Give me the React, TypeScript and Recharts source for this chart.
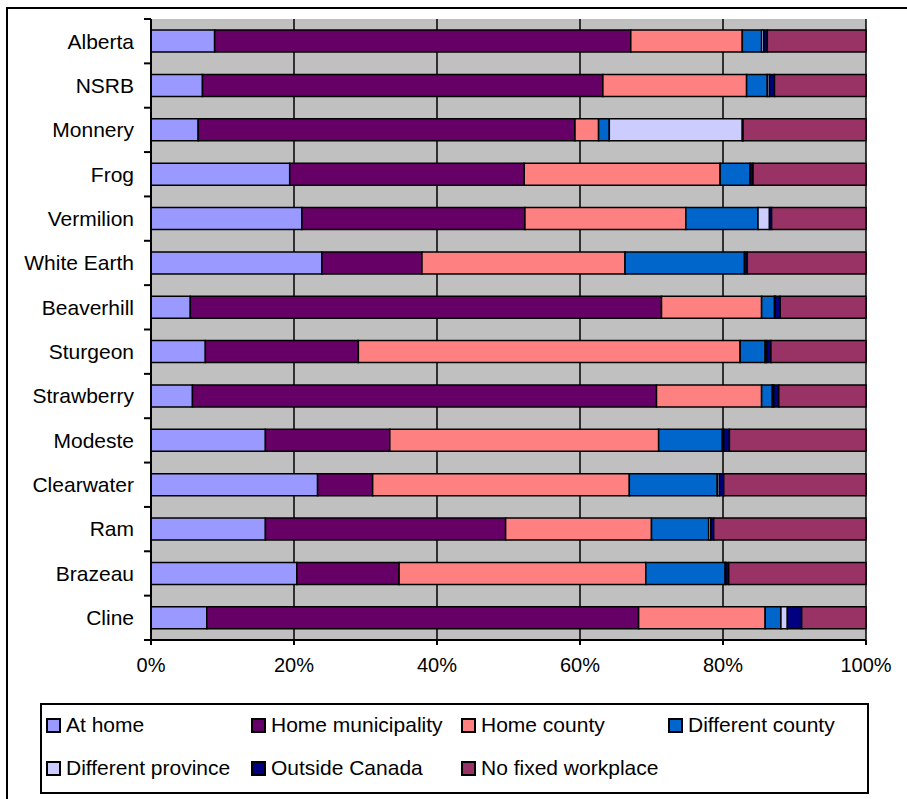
import { BarChart, Bar, XAxis, YAxis, CartesianGrid } from "recharts";

// share of workers by place of work, one bar per region
const regions = [
  "Alberta",
  "NSRB",
  "Monnery",
  "Frog",
  "Vermilion",
  "White Earth",
  "Beaverhill",
  "Sturgeon",
  "Strawberry",
  "Modeste",
  "Clearwater",
  "Ram",
  "Brazeau",
  "Cline",
];

const atHome = [8.9, 7.2, 6.6, 19.4, 21.1, 23.9, 5.5, 7.6, 5.8, 16.0, 23.3, 16.0, 20.4, 7.8];
const homeMunicipality = [58.2, 56.0, 52.7, 32.8, 31.2, 14.0, 65.9, 21.4, 64.9, 17.4, 7.7, 33.6, 14.3, 60.4];
const homeCounty = [15.6, 20.1, 3.3, 27.4, 22.5, 28.4, 14.0, 53.4, 14.7, 37.6, 35.9, 20.4, 34.5, 17.7];
const differentCounty = [2.7, 2.9, 1.5, 4.2, 10.1, 16.7, 1.8, 3.5, 1.5, 8.9, 12.3, 8.0, 11.1, 2.2];
const differentProvince = [0.3, 0.3, 18.6, 0, 1.6, 0, 0.1, 0.2, 0.2, 0.2, 0.3, 0.3, 0.1, 0.9];
const outsideCanada = [0.5, 0.7, 0.1, 0.4, 0.3, 0.4, 0.7, 0.6, 0.7, 0.8, 0.6, 0.4, 0.4, 2.0];
const noFixedWorkplace = [13.8, 12.8, 17.2, 15.8, 13.2, 16.6, 12.0, 13.3, 12.2, 19.1, 19.9, 21.3, 19.2, 9.0];

const xTicks = [0, 0.2, 0.4, 0.6, 0.8, 1];

const series = [
  { key: "atHome", label: "At home", color: "#9999FF", values: atHome },
  { key: "homeMunicipality", label: "Home municipality", color: "#660066", values: homeMunicipality },
  { key: "homeCounty", label: "Home county", color: "#FF8080", values: homeCounty },
  { key: "differentCounty", label: "Different county", color: "#0066CC", values: differentCounty },
  { key: "differentProvince", label: "Different province", color: "#CCCCFF", values: differentProvince },
  { key: "outsideCanada", label: "Outside Canada", color: "#000080", values: outsideCanada },
  { key: "noFixedWorkplace", label: "No fixed workplace", color: "#993366", values: noFixedWorkplace },
];

const rows = regions.map((name, i) => {
  const row: Record<string, string | number> = { name };
  series.forEach((s) => {
    row[s.key] = s.values[i];
  });
  return row;
});

const FONT = "'Liberation Sans', Arial, sans-serif";
const CHART_W = 907;
const CHART_H = 700;
const AXIS_W = 151;
const TOP = 19;
const X_AXIS_H = 60;
const BAND = (CHART_H - TOP - X_AXIS_H) / regions.length;

// category label plus a tick mark at the band boundary above it
function RegionTick(props: any) {
  const { y, payload, index } = props;
  const top = y - BAND / 2;
  return (
    <g>
      <line x1={AXIS_W - 7} x2={AXIS_W} y1={top} y2={top} stroke="#000" strokeWidth={2} />
      {index === regions.length - 1 && (
        <line x1={AXIS_W - 7} x2={AXIS_W} y1={top + BAND} y2={top + BAND} stroke="#000" strokeWidth={2} />
      )}
      <text x={AXIS_W - 17} y={y} dy="0.35em" textAnchor="end" fontSize={21} fill="#000" fontFamily={FONT}>
        {payload.value}
      </text>
    </g>
  );
}

const legendCols = [46, 251, 461, 668];

export default function App() {
  return (
    <div
      style={{
        position: "absolute",
        left: 0,
        top: 0,
        width: 907,
        height: 799,
        overflow: "hidden",
        background: "#fff",
        fontFamily: FONT,
      }}
    >
      {/* outer frame, only its top and left edges fall inside the page */}
      <div
        style={{
          position: "absolute",
          left: 6,
          top: 7,
          width: 920,
          height: 820,
          borderTop: "2px solid #000",
          borderLeft: "2px solid #000",
          boxSizing: "border-box",
        }}
      />
      <div style={{ position: "absolute", left: 0, top: 0 }}>
        <BarChart
          width={CHART_W}
          height={CHART_H}
          data={rows}
          layout="vertical"
          stackOffset="expand"
          barCategoryGap="25%"
          margin={{ top: TOP, right: 41, bottom: 0, left: 0 }}
        >
          <CartesianGrid horizontal={false} stroke="#000" strokeWidth={1.5} fill="#C0C0C0" />
          <XAxis
            type="number"
            domain={[0, 1]}
            ticks={xTicks}
            tickFormatter={(v: number) => `${Math.round(v * 100)}%`}
            height={X_AXIS_H}
            axisLine={{ stroke: "#000", strokeWidth: 2 }}
            tickLine={{ stroke: "#000", strokeWidth: 2 }}
            tickSize={5}
            tickMargin={13}
            tick={{ fill: "#000", fontSize: 20, fontFamily: FONT }}
          />
          <YAxis
            type="category"
            dataKey="name"
            width={AXIS_W}
            axisLine={{ stroke: "#000", strokeWidth: 2 }}
            tickLine={false}
            tick={<RegionTick />}
            interval={0}
          />
          {series.map((s) => (
            <Bar
              key={s.key}
              dataKey={s.key}
              name={s.label}
              stackId="place"
              fill={s.color}
              stroke="#000"
              strokeWidth={1.5}
              isAnimationActive={false}
            />
          ))}
        </BarChart>
      </div>
      <div
        style={{
          position: "absolute",
          left: 40,
          top: 703,
          width: 829,
          height: 91,
          border: "2px solid #000",
          boxSizing: "border-box",
          background: "#fff",
        }}
      />
      {series.map((s, i) => {
        const col = legendCols[i % 4];
        const rowY = i < 4 ? 725 : 768;
        return (
          <div
            key={s.key}
            style={{
              position: "absolute",
              left: col,
              top: rowY - 12,
              height: 24,
              display: "flex",
              alignItems: "center",
              fontSize: 21,
              color: "#000",
              whiteSpace: "nowrap",
            }}
          >
            <span
              style={{
                display: "inline-block",
                width: 11,
                height: 11,
                background: s.color,
                border: "2px solid #000",
                marginRight: 5,
              }}
            />
            {s.label}
          </div>
        );
      })}
    </div>
  );
}
